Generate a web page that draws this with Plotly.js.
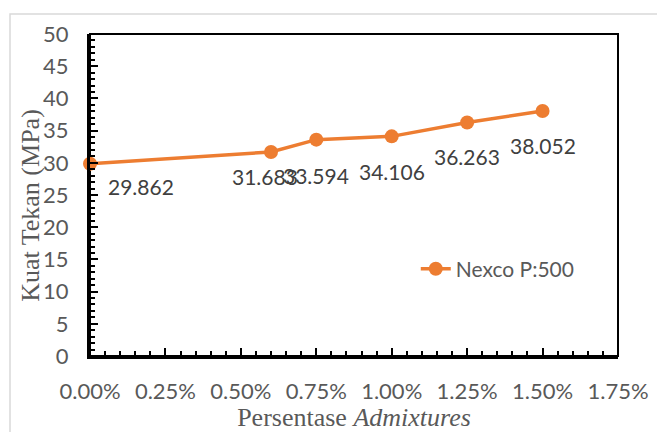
<!DOCTYPE html>
<html>
<head>
<meta charset="utf-8">
<script src="https://cdn.plot.ly/plotly-3.0.1.min.js"></script>
<style>
  html, body { margin: 0; padding: 0; background: #ffffff; }
  #chart { width: 657px; height: 432px; }
</style>
</head>
<body>
<div id="chart"></div>
<script>
// Admixture dosage (fraction) and compressive strength (MPa)
const dosage = [0.0, 0.006, 0.0075, 0.010, 0.0125, 0.015];
const strength = [29.862, 31.683, 33.594, 34.106, 36.263, 38.052];
const seriesName = 'Nexco P:500';
const xTickVals = [0, 0.0025, 0.005, 0.0075, 0.01, 0.0125, 0.015, 0.0175];
const yTickVals = [0, 5, 10, 15, 20, 25, 30, 35, 40, 45, 50];
const yTitle = 'Kuat Tekan (MPa)';
const xTitle = 'Persentase <i>Admixtures</i>';

// per-label nudges (px) for the value labels
const labelXShift = [51, -6, 0, 0, 0, 0];
const labelYShift = [-23, -25, -36, -35, -34, -35];

const orange = '#ED7D31';
const tickGray = '#595959';
const labelGray = '#404040';
const sansFont = 'Lato, sans-serif';
const serifFont = '"Liberation Serif", "Times New Roman", serif';

const trace = {
  x: dosage,
  y: strength,
  name: seriesName,
  type: 'scatter',
  mode: 'lines+markers',
  line: { color: orange, width: 3.5 },
  marker: { color: orange, size: 14 },
  cliponaxis: false,
  hoverinfo: 'x+y'
};

const valueLabels = dosage.map((d, i) => ({
  x: d,
  y: strength[i],
  xref: 'x',
  yref: 'y',
  text: strength[i].toFixed(3),
  showarrow: false,
  xshift: labelXShift[i],
  yshift: labelYShift[i],
  font: { family: sansFont, size: 21, color: labelGray }
}));

// vertical axis title, set a little below the axis midpoint
const yTitleNote = {
  xref: 'paper', yref: 'paper',
  x: -0.112, y: 0.469,
  xanchor: 'center', yanchor: 'middle',
  textangle: -90,
  text: yTitle,
  showarrow: false,
  font: { family: serifFont, size: 26, color: tickGray }
};

const axisCommon = {
  showgrid: false,
  zeroline: false,
  showline: true,
  linecolor: '#000000',
  linewidth: 3,
  ticks: 'inside',
  ticklen: 8,
  tickwidth: 2,
  tickcolor: '#000000',
  tickfont: { family: sansFont, size: 22, color: tickGray },
  automargin: false
};

const layout = {
  width: 657,
  height: 432,
  margin: { l: 90, r: 39, t: 34, b: 76 },
  paper_bgcolor: '#ffffff',
  plot_bgcolor: '#ffffff',
  showlegend: true,
  legend: {
    x: 0.617, y: 0.27, xanchor: 'left', yanchor: 'middle',
    bgcolor: 'rgba(0,0,0,0)',
    font: { family: sansFont, size: 21, color: tickGray }
  },
  xaxis: Object.assign({}, axisCommon, {
    range: [0, 0.0175],
    tickvals: xTickVals,
    tickformat: '.2%',
    minor: { dtick: 0.0005, ticks: 'inside', ticklen: 5, tickwidth: 2, tickcolor: '#000000', showgrid: false },
    ticklabelstandoff: 14,
    title: {
      text: xTitle,
      font: { family: serifFont, size: 26, color: tickGray },
      standoff: 6
    }
  }),
  yaxis: Object.assign({}, axisCommon, {
    range: [0, 50],
    tickvals: yTickVals,
    minor: { dtick: 1, ticks: 'inside', ticklen: 5, tickwidth: 2, tickcolor: '#000000', showgrid: false },
    ticklabelstandoff: 14
  }),
  shapes: [
    // plot-area frame
    { type: 'rect', xref: 'paper', yref: 'paper', x0: 0, x1: 1, y0: 0, y1: 1,
      line: { color: '#000000', width: 2 }, fillcolor: 'rgba(0,0,0,0)', layer: 'below' },
    // outer chart border
    { type: 'rect', xref: 'paper', yref: 'paper', x0: -0.1515, x1: 1.3, y0: -0.4, y1: 1.062,
      line: { color: '#d9d9d9', width: 1.5 }, fillcolor: 'rgba(0,0,0,0)', layer: 'below' }
  ],
  annotations: valueLabels.concat([yTitleNote])
};

Plotly.newPlot('chart', [trace], layout, { displayModeBar: false, staticPlot: true });
</script>
</body>
</html>
